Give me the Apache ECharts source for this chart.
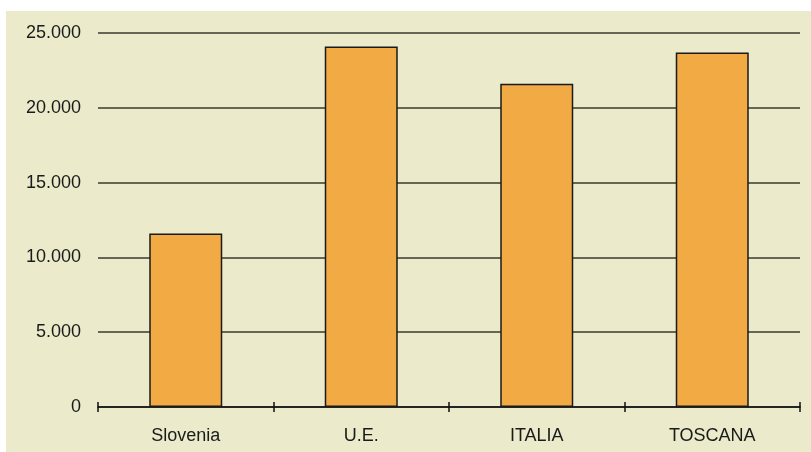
<!DOCTYPE html>
<html>
<head>
<meta charset="utf-8">
<script src="https://cdn.jsdelivr.net/npm/echarts@6/dist/echarts.min.js"></script>
<style>
  html, body { margin: 0; padding: 0; background: #ffffff; }
  #chart { position: absolute; left: 6px; top: 11px; width: 805px; height: 441px; background: #ebebcb; }
</style>
</head>
<body>
<div id="chart"></div>
<script>
// Categories and values (bar heights)
const categories = ['Slovenia', 'U.E.', 'ITALIA', 'TOSCANA'];
const values = [11600, 24100, 21600, 23700];
// Value axis range
const yMin = 0;
const yMax = 25000;
const yStep = 5000;

function fmtThousands(v) {
  return String(v).replace(/\B(?=(\d{3})+(?!\d))/g, '.');
}

const chart = echarts.init(document.getElementById('chart'), null, { renderer: 'canvas' });
const labelFont = { fontFamily: 'Liberation Sans, Arial, sans-serif', fontSize: 18, color: '#1a1a1a' };

chart.setOption({
  backgroundColor: 'transparent',
  animation: false,
  grid: { left: 92, right: 11, top: 22, bottom: 45 },
  xAxis: [
    {
      type: 'category',
      data: categories,
      position: 'bottom',
      boundaryGap: true,
      axisLine: { show: true, lineStyle: { color: '#111', width: 1.5 } },
      axisTick: { show: true, length: 5, lineStyle: { color: '#111', width: 1.5 } },
      axisLabel: Object.assign({ margin: 20 }, labelFont),
      splitLine: { show: false }
    },
    {
      type: 'category',
      data: categories,
      position: 'bottom',
      boundaryGap: true,
      axisLine: { show: false },
      axisTick: { show: true, inside: true, length: 5, lineStyle: { color: '#111', width: 1.5 } },
      axisLabel: { show: false },
      splitLine: { show: false }
    }
  ],
  yAxis: {
    type: 'value',
    min: yMin,
    max: yMax,
    interval: yStep,
    axisLine: { show: false },
    axisTick: { show: false },
    axisLabel: Object.assign({ margin: 17, formatter: fmtThousands }, labelFont),
    splitLine: { show: true, lineStyle: { color: '#3a3a30', width: 1.5 } }
  },
  series: [{
    type: 'bar',
    data: values,
    barWidth: 73,
    itemStyle: { color: '#f2aa45', borderColor: '#1a1a1a', borderWidth: 1.5 }
  }]
});
</script>
</body>
</html>
